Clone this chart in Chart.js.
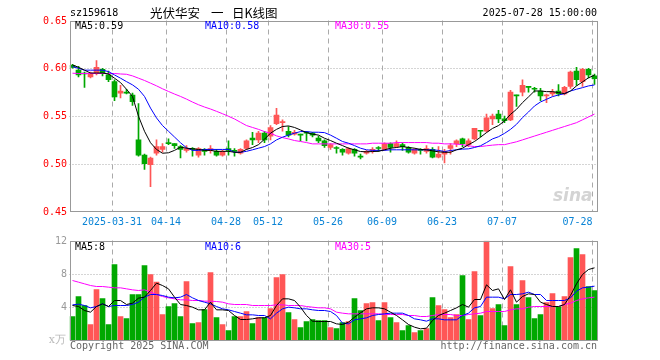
<!DOCTYPE html>
<html>
<head>
<meta charset="utf-8">
<script src="https://cdn.jsdelivr.net/npm/chart.js@4.4.1/dist/chart.umd.min.js"></script>
<style>
  body { margin: 0; background: #fff; }
  #wrap { position: relative; width: 660px; height: 360px; }
  #wrap canvas { position: absolute; left: 0; top: 0; }
</style>
</head>
<body>
<div id="wrap">
  <canvas id="priceChart" width="660" height="360"></canvas>
  <canvas id="volChart" width="660" height="360"></canvas>
</div>
<script>
const dates = [
  '2025-03-20','2025-03-21','2025-03-24','2025-03-25','2025-03-26','2025-03-27','2025-03-28','2025-03-31',
  '2025-04-01','2025-04-02','2025-04-03','2025-04-07','2025-04-08','2025-04-09','2025-04-10','2025-04-11',
  '2025-04-14','2025-04-15','2025-04-16','2025-04-17','2025-04-18',
  '2025-04-21','2025-04-22','2025-04-23','2025-04-24','2025-04-25',
  '2025-04-28','2025-04-29','2025-04-30',
  '2025-05-06','2025-05-07','2025-05-08','2025-05-09',
  '2025-05-12','2025-05-13','2025-05-14','2025-05-15','2025-05-16',
  '2025-05-19','2025-05-20','2025-05-21','2025-05-22','2025-05-23',
  '2025-05-26','2025-05-27','2025-05-28','2025-05-29','2025-05-30',
  '2025-06-03','2025-06-04','2025-06-05','2025-06-06',
  '2025-06-09','2025-06-10','2025-06-11','2025-06-12','2025-06-13',
  '2025-06-16','2025-06-17','2025-06-18','2025-06-19','2025-06-20',
  '2025-06-23','2025-06-24','2025-06-25','2025-06-26','2025-06-27',
  '2025-06-30','2025-07-01','2025-07-02','2025-07-03','2025-07-04',
  '2025-07-07','2025-07-08','2025-07-09','2025-07-10','2025-07-11',
  '2025-07-14','2025-07-15','2025-07-16','2025-07-17','2025-07-18',
  '2025-07-21','2025-07-22','2025-07-23','2025-07-24','2025-07-25',
  '2025-07-28'
];

const open = [
  0.603,0.598,0.595,0.591,0.595,0.599,0.593,0.586, 0.574,0.575,0.572,0.525,0.509,0.499,0.511,0.515,
  0.522,0.521,0.518,0.514,0.516,0.509,0.515,0.514, 0.513,0.509,0.516,0.514,0.511,0.516,0.527,0.525,
  0.532,0.529,0.542,0.543,0.534,0.531,0.531,0.533, 0.532,0.527,0.524,0.517,0.517,0.515,0.511,0.515,
  0.508,0.511,0.514,0.517,0.515,0.521,0.518,0.520, 0.517,0.511,0.515,0.513,0.515,0.507,0.510,0.516,
  0.521,0.526,0.520,0.526,0.535,0.534,0.547,0.552, 0.547,0.546,0.572,0.575,0.581,0.579,0.576,0.571,
  0.573,0.576,0.573,0.581,0.597,0.586,0.599,0.592
];
const high = [
  0.604,0.602,0.596,0.596,0.608,0.600,0.597,0.588, 0.582,0.578,0.574,0.563,0.510,0.507,0.525,0.521,
  0.526,0.521,0.519,0.519,0.517,0.517,0.516,0.519, 0.515,0.514,0.524,0.516,0.516,0.525,0.533,0.534,
  0.534,0.540,0.558,0.546,0.539,0.535,0.531,0.534, 0.533,0.529,0.525,0.521,0.518,0.516,0.517,0.516,
  0.510,0.514,0.517,0.518,0.522,0.522,0.524,0.522, 0.518,0.516,0.516,0.519,0.517,0.518,0.515,0.521,
  0.525,0.527,0.526,0.537,0.535,0.552,0.552,0.556, 0.550,0.577,0.572,0.588,0.581,0.580,0.579,0.573,
  0.578,0.583,0.581,0.597,0.601,0.600,0.600,0.594
];
const low = [
  0.600,0.591,0.580,0.590,0.593,0.592,0.586,0.566, 0.569,0.573,0.561,0.508,0.494,0.476,0.509,0.512,
  0.520,0.516,0.506,0.512,0.508,0.507,0.509,0.511, 0.508,0.508,0.509,0.508,0.510,0.515,0.520,0.522,
  0.522,0.525,0.541,0.534,0.528,0.530,0.524,0.524, 0.528,0.522,0.517,0.515,0.511,0.509,0.510,0.508,
  0.505,0.510,0.511,0.513,0.514,0.512,0.517,0.514, 0.511,0.510,0.510,0.511,0.506,0.506,0.501,0.510,
  0.518,0.518,0.518,0.525,0.528,0.533,0.541,0.543, 0.543,0.545,0.560,0.571,0.575,0.575,0.566,0.564,
  0.571,0.571,0.572,0.579,0.582,0.581,0.590,0.583
];
const close = [
  0.601,0.593,0.594,0.595,0.601,0.595,0.588,0.570, 0.576,0.574,0.565,0.509,0.500,0.506,0.518,0.518,
  0.521,0.519,0.515,0.516,0.515,0.516,0.513,0.516, 0.509,0.513,0.514,0.513,0.515,0.524,0.525,0.532,
  0.525,0.538,0.551,0.544,0.530,0.533,0.530,0.532, 0.530,0.524,0.519,0.520,0.516,0.512,0.516,0.511,
  0.507,0.513,0.515,0.516,0.521,0.517,0.521,0.518, 0.512,0.515,0.514,0.516,0.507,0.510,0.513,0.519,
  0.524,0.521,0.524,0.537,0.534,0.548,0.550,0.547, 0.545,0.575,0.571,0.582,0.580,0.578,0.571,0.572,
  0.575,0.573,0.580,0.596,0.588,0.599,0.593,0.589
];

const ma5 = [
  0.6035,0.601,0.598,0.595,0.595,0.595,0.594,0.5896, 0.585,0.578,0.5705,0.5497,0.534,0.522,0.515,0.511,
  0.5115,0.514,0.5174,0.5163,0.5156,0.515,0.514,0.514, 0.513,0.513,0.513,0.512,0.512,0.515,0.517,0.520,
  0.5257,0.532,0.536,0.539,0.5396,0.538,0.5354,0.5326, 0.531,0.530,0.5267,0.5243,0.5215,0.519,0.5163,0.5146,
  0.5128,0.5125,0.5128,0.513,0.5146,0.5163,0.517,0.518, 0.517,0.5163,0.515,0.5146,0.5135,0.5125,0.512,0.512,
  0.5146,0.5163,0.520,0.5233,0.5278,0.5326,0.537,0.540, 0.5448,0.5517,0.557,0.564,0.570,0.5762,0.5762,0.5755,
  0.5755,0.5745,0.5734,0.5762,0.5815,0.5857,0.590,0.5927
];
const ma10 = [
  0.6017,0.600,0.598,0.598,0.598,0.598,0.5965,0.593, 0.5896,0.586,0.5826,0.578,0.5705,0.5583,0.548,0.540,
  0.534,0.528,0.522,0.5167,0.514,0.514,0.515,0.515, 0.515,0.515,0.515,0.512,0.512,0.513,0.5146,0.5163,
  0.518,0.5208,0.525,0.5278,0.530,0.532,0.5337,0.5337, 0.533,0.533,0.5326,0.530,0.5267,0.5233,0.5215,0.519,
  0.5163,0.5146,0.514,0.514,0.514,0.5146,0.5146,0.5146, 0.5146,0.5146,0.5146,0.5146,0.5146,0.514,0.5128,0.5139,
  0.5146,0.5153,0.5156,0.517,0.5188,0.5222,0.526,0.5283, 0.5318,0.536,0.5413,0.5483,0.5542,0.5605,0.5647,0.5675,
  0.5703,0.572,0.5734,0.5762,0.578,0.5797,0.5815,0.5825
];
const ma30 = [
  0.5948,0.5945,0.5945,0.5945,0.5945,0.5945,0.5945,0.5945, 0.594,0.5937,0.592,0.5896,0.5872,0.5844,0.5816,0.5785,
  0.5757,0.573,0.5705,0.5677,0.5646,0.5618,0.5594,0.5573, 0.5549,0.5524,0.5497,0.5469,0.5434,0.540,0.538,0.536,
  0.5337,0.532,0.5292,0.5274,0.526,0.5243,0.5233,0.5222, 0.5208,0.5208,0.5208,0.5208,0.5208,0.5208,0.5208,0.5208,
  0.5208,0.5208,0.5215,0.5215,0.5215,0.5215,0.5222,0.5222, 0.5222,0.5222,0.5222,0.5222,0.5215,0.5215,0.5208,0.5208,
  0.5205,0.520,0.5188,0.518,0.518,0.5188,0.5195,0.520, 0.520,0.5215,0.523,0.525,0.527,0.529,0.531,0.533,
  0.535,0.537,0.539,0.541,0.543,0.546,0.549,0.552
];

// volume in 万
const volume = [
  2.88,5.28,4.2,1.92,6.12,5.04,1.92,9.12, 2.88,2.64,5.52,5.52,9.0,7.92,7.0,3.12,
  4.08,4.44,2.88,7.08,2.04,2.16,3.72,8.16, 2.76,1.92,1.2,2.88,2.88,3.48,2.04,2.76,
  2.76,3.84,7.56,7.92,3.36,2.52,1.56,2.28, 2.52,2.4,2.4,1.56,1.44,2.16,2.28,5.04,
  3.6,4.44,4.56,2.4,4.56,2.76,2.16,1.2, 1.8,0.96,1.2,1.44,5.16,4.2,3.72,2.76,
  3.12,7.8,2.52,8.28,3.0,11.92,3.84,4.32, 1.8,8.88,4.32,7.2,5.16,2.64,3.12,4.56,
  5.64,4.08,5.28,9.96,11.04,10.32,6.48,6.0
];
const volMa5 = [
  4.2,4.08,3.6,3.4,4.08,4.4,4.08,4.8, 4.8,4.32,4.48,5.08,5.2,6.0,6.88,6.6,
  6.2,5.2,4.32,4.2,4.0,3.68,3.68,4.6, 3.68,3.68,3.6,3.0,2.52,2.52,2.6,2.72,
  2.72,3.0,4.2,5.0,5.0,4.8,4.0,3.0, 2.32,2.28,2.28,2.28,2.0,1.92,2.2,2.8,
  3.32,3.8,3.92,3.92,3.8,3.4,3.0,2.48, 1.92,1.6,1.4,1.48,2.4,3.0,3.28,3.6,
  3.92,4.32,4.0,4.92,4.92,6.68,6.0,6.2, 4.92,6.08,4.6,5.28,5.6,5.52,4.6,4.32,
  4.08,4.08,4.32,5.4,6.8,7.92,8.52,8.72
];
const volMa10 = [
  4.28,4.36,4.2,3.92,4.08,4.4,4.08,4.2, 4.2,4.2,4.32,4.6,5.2,5.52,5.52,5.4,
  5.2,5.12,5.2,5.52,5.12,4.8,4.6,4.4, 4.08,3.8,3.68,3.48,3.28,3.08,3.08,3.0,
  3.0,2.6,3.28,3.8,4.0,3.92,3.8,3.8, 3.68,3.6,3.6,3.48,3.0,2.08,2.0,2.48,
  2.6,2.72,3.0,3.12,3.2,3.28,3.28,3.28, 3.0,2.6,2.48,2.32,2.6,2.6,2.48,2.48,
  2.48,3.0,3.28,3.92,4.08,5.2,5.2,5.2, 5.0,5.52,5.52,5.6,5.8,5.52,5.52,4.8,
  4.8,4.8,4.8,5.12,5.92,6.32,6.4,6.52
];
const volMa30 = [
  7.2,7.0,6.8,6.6,6.48,6.48,6.4,6.32, 6.32,6.2,6.08,6.0,6.08,5.8,5.52,5.28,
  5.12,5.0,4.88,4.88,4.8,4.8,4.72,4.72, 4.68,4.6,4.4,4.32,4.32,4.32,4.2,4.2,
  4.2,4.2,4.28,4.28,4.2,4.2,4.2,4.08, 4.0,3.92,3.92,3.8,3.4,3.28,3.2,3.2,
  3.2,3.2,3.2,3.2,3.12,3.12,3.12,3.12, 3.0,3.0,2.88,2.88,3.0,3.12,3.12,3.12,
  3.0,3.0,3.12,3.2,3.28,3.48,3.48,3.48, 3.48,3.68,3.8,3.8,4.0,4.08,4.08,4.08,
  4.08,4.08,4.32,4.48,4.8,5.0,5.12,5.2
];

const tickDates = ['2025-03-31','2025-04-14','2025-04-28','2025-05-12','2025-05-26','2025-06-09','2025-06-23','2025-07-07','2025-07-28'];
const tickLabels = ['2025-03-31','04-14','04-28','05-12','05-26','06-09','06-23','07-07','07-28'];
const priceTicks = [0.65, 0.60, 0.55, 0.50, 0.45];
const volTicks = [12, 8, 4];

const UP = '#ff5656';
const DOWN = '#00a800';
const GRID = '#aaaaaa';
const BORDER = '#999999';
const MONO = '10px "DejaVu Sans Mono", monospace';

const candleColors = close.map((c, i) => c >= open[i] ? UP : DOWN);

function line(ctx, x1, y1, x2, y2) {
  ctx.beginPath(); ctx.moveTo(x1, y1); ctx.lineTo(x2, y2); ctx.stroke();
}

// dotted horizontal + dashed vertical grid, drawn behind the marks
function drawGrid(chart, hValues) {
  const { ctx, chartArea: a, scales: { x, y } } = chart;
  ctx.save();
  ctx.strokeStyle = GRID;
  ctx.lineWidth = 1;
  ctx.setLineDash([1, 2]);
  hValues.forEach(v => {
    const py = Math.round(y.getPixelForValue(v)) + 0.5;
    line(ctx, a.left, py, a.right, py);
  });
  ctx.setLineDash([5, 4]);
  tickDates.forEach(d => {
    const px = Math.round(x.getPixelForValue(dates.indexOf(d)) - 2.5) + 0.5;
    line(ctx, px, a.top, px, a.bottom);
  });
  ctx.restore();
}

function drawBorder(chart) {
  const { ctx, chartArea: a } = chart;
  ctx.save();
  ctx.strokeStyle = BORDER;
  ctx.lineWidth = 1;
  const l = Math.round(a.left) + 0.5, r = Math.round(a.right) - 0.5;
  const t = Math.round(a.top) + 0.5, b = Math.round(a.bottom) - 0.5;
  ctx.strokeRect(l, t, r - l, b - t);
  ctx.restore();
}

const priceDecor = {
  id: 'priceDecor',
  beforeDatasetsDraw(chart) { drawGrid(chart, [0.60, 0.55, 0.50]); },
  afterDraw(chart) {
    const { ctx, chartArea: a, scales: { x, y } } = chart;
    drawBorder(chart);
    ctx.save();
    ctx.font = MONO;
    ctx.textBaseline = 'middle';

    // y labels
    ctx.fillStyle = '#ff0000';
    ctx.textAlign = 'right';
    priceTicks.forEach(v => ctx.fillText(v.toFixed(2), 67, y.getPixelForValue(v) + 0.5));

    // x labels
    ctx.fillStyle = '#0a84d6';
    ctx.textAlign = 'left';
    tickDates.forEach((d, i) => {
      const px = x.getPixelForValue(dates.indexOf(d)) - 2.5;
      const w = ctx.measureText(tickLabels[i]).width;
      let left = px - w / 2;
      if (left + w > a.right - 5) left = a.right - 5 - w;
      ctx.fillText(tickLabels[i], left, 222);
    });

    // header
    ctx.fillStyle = '#000';
    ctx.fillText('sz159618', 70, 13);
    ctx.textAlign = 'right';
    ctx.fillText('2025-07-28 15:00:00', 597, 13);
    ctx.textAlign = 'left';
    ctx.font = '12.5px "Noto Sans CJK SC", sans-serif';
    ctx.fillText('光伏华安', 150, 13);
    ctx.fillText('一', 211, 13);
    ctx.fillText('日K线图', 232, 13);

    // MA legend
    ctx.font = MONO;
    ctx.fillStyle = '#000';
    ctx.fillText('MA5:' + ma5[ma5.length - 1].toFixed(2), 75, 26.5);
    ctx.fillStyle = '#0000ff';
    ctx.fillText('MA10:' + ma10[ma10.length - 1].toFixed(2), 205, 26.5);
    ctx.fillStyle = '#ff00ff';
    ctx.fillText('MA30:' + ma30[ma30.length - 1].toFixed(2), 335, 26.5);

    // watermark
    ctx.font = 'italic bold 17px "DejaVu Sans", sans-serif';
    ctx.fillStyle = '#d4d4d4';
    ctx.textBaseline = 'alphabetic';
    ctx.fillText('sina', 553, 201);
    ctx.restore();
  }
};

const volDecor = {
  id: 'volDecor',
  beforeDatasetsDraw(chart) { drawGrid(chart, [8, 4]); },
  afterDraw(chart) {
    const { ctx, scales: { y } } = chart;
    drawBorder(chart);
    ctx.save();
    ctx.font = MONO;
    ctx.textBaseline = 'middle';
    ctx.fillStyle = '#999';
    ctx.textAlign = 'right';
    volTicks.forEach(v => ctx.fillText(String(v), 67, y.getPixelForValue(v) + 0.5));
    ctx.fillStyle = '#bbb';
    ctx.font = '11px "DejaVu Serif", serif';
    ctx.fillText('x万', 66, 340);

    ctx.font = MONO;
    ctx.textAlign = 'left';
    ctx.fillStyle = '#000';
    ctx.fillText('MA5:' + Math.floor(volMa5[volMa5.length - 1]), 75, 247);
    ctx.fillStyle = '#0000ff';
    ctx.fillText('MA10:' + Math.floor(volMa10[volMa10.length - 1]), 205, 247);
    ctx.fillStyle = '#ff00ff';
    ctx.fillText('MA30:' + Math.floor(volMa30[volMa30.length - 1]), 335, 247);

    ctx.fillStyle = '#666';
    ctx.fillText('Copyright 2025 SINA.COM', 70, 346);
    ctx.textAlign = 'right';
    ctx.fillText('http://finance.sina.com.cn', 597, 346);
    ctx.restore();
  }
};

function maLine(label, data, color) {
  return {
    type: 'line', label, data,
    borderColor: color, borderWidth: 1,
    pointRadius: 0, tension: 0, fill: false, order: 0
  };
}

const baseOptions = {
  responsive: false,
  animation: false,
  events: [],
  devicePixelRatio: 1,
  plugins: { legend: { display: false }, tooltip: { enabled: false } }
};

new Chart(document.getElementById('priceChart').getContext('2d'), {
  type: 'bar',
  data: {
    labels: dates,
    datasets: [
      maLine('MA5', ma5, '#000000'),
      maLine('MA10', ma10, '#0000ff'),
      maLine('MA30', ma30, '#ff00ff'),
      {
        label: 'body',
        data: open.map((o, i) => [o, close[i]]),
        backgroundColor: candleColors,
        barThickness: 5,
        minBarLength: 1,
        grouped: false,
        order: 2
      },
      {
        label: 'wick',
        data: low.map((l, i) => [l, high[i]]),
        backgroundColor: candleColors,
        barThickness: 1,
        grouped: false,
        order: 3
      }
    ]
  },
  options: {
    ...baseOptions,
    layout: { padding: { left: 69.5, right: 62.5, top: 20.5, bottom: 148.5 } },
    scales: {
      x: { display: false },
      y: { display: false, min: 0.45, max: 0.65 }
    }
  },
  plugins: [priceDecor]
});

new Chart(document.getElementById('volChart').getContext('2d'), {
  type: 'bar',
  data: {
    labels: dates,
    datasets: [
      maLine('MA5', volMa5, '#000000'),
      maLine('MA10', volMa10, '#0000ff'),
      maLine('MA30', volMa30, '#ff00ff'),
      {
        label: 'volume',
        data: volume,
        backgroundColor: candleColors,
        barThickness: 5,
        order: 2
      }
    ]
  },
  options: {
    ...baseOptions,
    layout: { padding: { left: 69.5, right: 62.5, top: 240.5, bottom: 19.5 } },
    scales: {
      x: { display: false },
      y: { display: false, min: 0, max: 12 }
    }
  },
  plugins: [volDecor]
});
</script>
</body>
</html>
